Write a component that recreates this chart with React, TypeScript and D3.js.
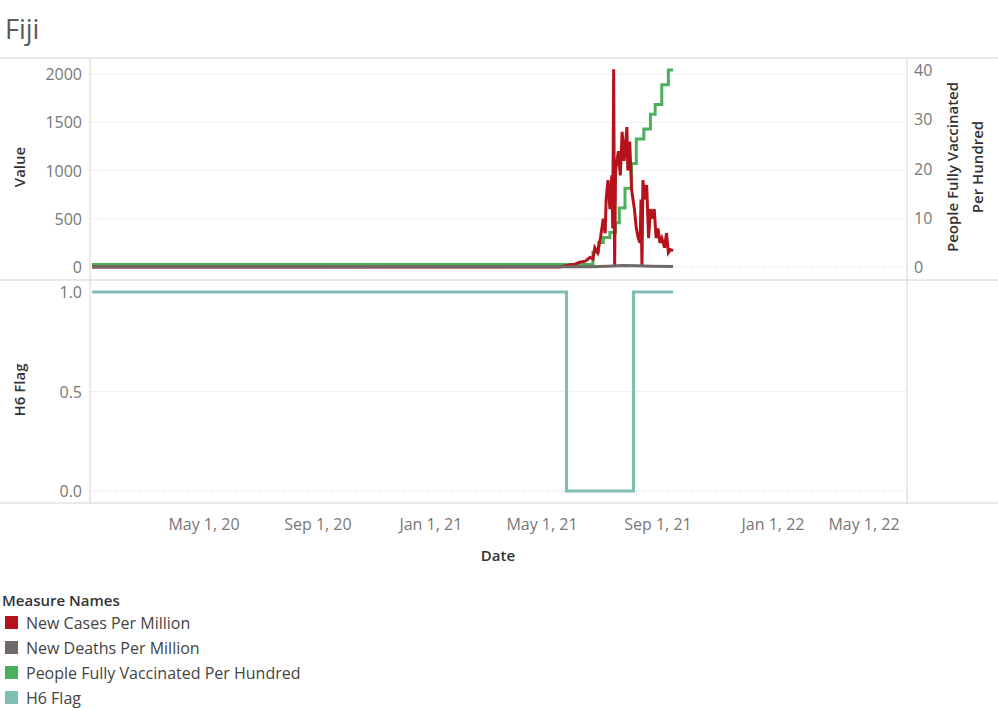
import React from 'react';
import * as d3 from 'd3';

// 날짜별 값
const casesDates = ['2020-01-01','2021-05-20','2021-05-25','2021-05-30','2021-06-05','2021-06-10','2021-06-16','2021-06-21','2021-06-24','2021-06-26','2021-06-29','2021-07-02','2021-07-05','2021-07-07','2021-07-08','2021-07-10','2021-07-12','2021-07-14','2021-07-15','2021-07-16','2021-07-17','2021-07-18','2021-07-21','2021-07-23','2021-07-25','2021-07-27','2021-07-28','2021-07-30','2021-07-31','2021-08-02','2021-08-04','2021-08-07','2021-08-09','2021-08-11','2021-08-13','2021-08-14','2021-08-15','2021-08-16','2021-08-18','2021-08-20','2021-08-22','2021-08-24','2021-08-26','2021-08-28','2021-08-30','2021-09-01','2021-09-03','2021-09-05','2021-09-08','2021-09-10','2021-09-12','2021-09-14','2021-09-17'];
const casesValues = [0,0,10,20,30,50,60,100,80,200,150,300,500,350,700,900,600,950,400,2050,0,1000,1200,950,1400,1100,1200,1450,1000,1300,800,600,400,300,250,700,0,900,700,850,300,600,500,600,300,400,250,300,200,350,150,180,170];

const deathDates = ['2020-01-01','2021-06-20','2021-07-10','2021-07-25','2021-08-10','2021-08-25','2021-09-17'];
const deathValues = [0,2,8,15,12,8,5];

const vaxDates = ['2020-01-01','2021-06-20','2021-06-24','2021-06-30','2021-07-05','2021-07-12','2021-07-18','2021-07-22','2021-07-28','2021-08-04','2021-08-09','2021-08-17','2021-08-24','2021-08-29','2021-09-05','2021-09-12','2021-09-17'];
const vaxValues = [0.5,0.5,3,5,6,7,9,12,16,21,26,28,31,33,37,40,40];

const h6Dates = ['2020-01-01','2021-05-27','2021-08-06','2021-09-17'];
const h6Values = [1,0,1,1];

const dateTicks = ['2020-05-01','2020-09-01','2021-01-01','2021-05-01','2021-09-01','2022-01-01','2022-05-01'];
const dateTickLabels = ['May 1, 20','Sep 1, 20','Jan 1, 21','May 1, 21','Sep 1, 21','Jan 1, 22','May 1, 22'];
const valueTicks = [0, 500, 1000, 1500, 2000];
const vaxTicks = [0, 10, 20, 30, 40];
const h6Ticks = [0, 0.5, 1];

const legendNames = ['New Cases Per Million','New Deaths Per Million','People Fully Vaccinated Per Hundred','H6 Flag'];
const legendColors = ['#b5121b','#6f6a67','#4caf5c','#7fbfb4'];

const FONT = '"Open Sans", "Noto Sans", sans-serif';
const L = 90, R = 907;

const App: React.FC = () => {
  const p = d3.timeParse('%Y-%m-%d');
  const x = d3.scaleTime()
    .domain(['2020-01-01', '2020-05-01', '2021-05-01', '2021-09-01', '2022-01-01', '2022-05-01'].map(s => p(s)!))
    .range([92, 204, 542, 658, 773, 864]);
  const y1 = d3.scaleLinear().domain([0, 2000]).range([267, 74]);
  const y2 = d3.scaleLinear().domain([0, 40]).range([267, 70]);
  const y3 = d3.scaleLinear().domain([0, 1]).range([491, 292]);

  const mk = (ds: string[], vs: number[], ys: d3.ScaleLinear<number, number>, curve: d3.CurveFactory) =>
    d3.line<number>().x((_, i) => x(p(ds[i])!)).y(v => ys(v)).curve(curve)(vs) ?? '';

  return (
    <svg width={998} height={711} style={{ position: 'absolute', left: 0, top: 0, fontFamily: FONT }}>
      <rect width={998} height={711} fill="#fff" />
      <text x={5} y={39} fontSize={27} fill="#5b5b5b">Fiji</text>

      {/* 그리드 */}
      {valueTicks.slice(1).map(t => <line key={t} x1={L} x2={R} y1={y1(t)} y2={y1(t)} stroke="#efefef" />)}
      <line x1={L} x2={R} y1={y1(0)} y2={y1(0)} stroke="#ccc" strokeDasharray="1 2" />
      <line x1={L} x2={R} y1={y3(0.5)} y2={y3(0.5)} stroke="#efefef" />
      <line x1={L} x2={R} y1={y3(0)} y2={y3(0)} stroke="#ccc" strokeDasharray="1 2" />

      {/* 테두리 */}
      {[58, 280, 503].map(v => <line key={v} x1={0} x2={998} y1={v} y2={v} stroke="#d4d4d4" />)}
      <line x1={L} x2={L} y1={58} y2={503} stroke="#d4d4d4" />
      <line x1={R} x2={R} y1={58} y2={503} stroke="#d4d4d4" />

      {/* 축 라벨 */}
      {valueTicks.map(t => <text key={t} x={82} y={y1(t) + 6} textAnchor="end" fontSize={16} fill="#777">{t}</text>)}
      {vaxTicks.map(t => <text key={t} x={914} y={y2(t) + 6} fontSize={16} fill="#777">{t}</text>)}
      {h6Ticks.map(t => <text key={t} x={82} y={y3(t) + 6} textAnchor="end" fontSize={16} fill="#777">{t.toFixed(1)}</text>)}
      {dateTicks.map((t, i) => <text key={t} x={x(p(t)!)} y={530} textAnchor="middle" fontSize={16} fill="#777">{dateTickLabels[i]}</text>)}

      <text transform="translate(25,167) rotate(-90)" textAnchor="middle" fontSize={15} fontWeight={600} fill="#333">Value</text>
      <text transform="translate(25,390) rotate(-90)" textAnchor="middle" fontSize={15} fontWeight={600} fill="#333">H6 Flag</text>
      <text transform="translate(958,167) rotate(-90)" textAnchor="middle" fontSize={15} fontWeight={600} fill="#333">People Fully Vaccinated</text>
      <text transform="translate(983,167) rotate(-90)" textAnchor="middle" fontSize={15} fontWeight={600} fill="#333">Per Hundred</text>
      <text x={498} y={561} textAnchor="middle" fontSize={15} fontWeight={600} fill="#333">Date</text>

      {/* 선 */}
      <path d={mk(vaxDates, vaxValues, y2, d3.curveStepAfter)} fill="none" stroke={legendColors[2]} strokeWidth={3} />
      <path d={mk(casesDates, casesValues, y1, d3.curveLinear)} fill="none" stroke={legendColors[0]} strokeWidth={3} />
      <path d={mk(deathDates, deathValues, y1, d3.curveLinear)} fill="none" stroke={legendColors[1]} strokeWidth={3} />
      <path d={mk(h6Dates, h6Values, y3, d3.curveStepAfter)} fill="none" stroke={legendColors[3]} strokeWidth={3} />

      {/* 범례 */}
      <text x={2} y={606} fontSize={15} fontWeight={600} fill="#333">Measure Names</text>
      {legendNames.map((n, i) => (
        <g key={n} transform={`translate(0,${623 + i * 25})`}>
          <rect x={5} y={-7} width={13} height={13} fill={legendColors[i]} />
          <text x={26} y={6} fontSize={16} fill="#444">{n}</text>
        </g>
      ))}
    </svg>
  );
};

export default App;
